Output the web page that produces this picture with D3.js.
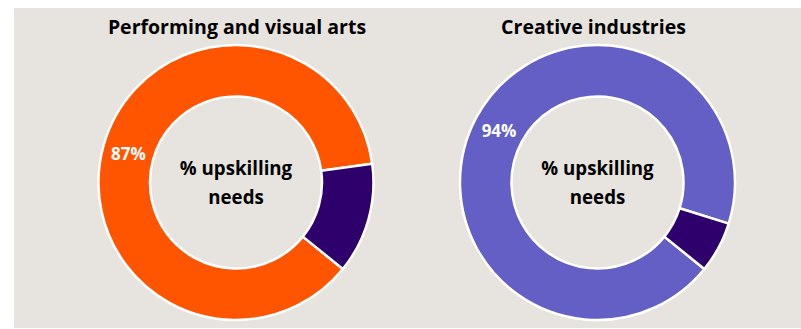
<!DOCTYPE html>
<html>
<head>
<meta charset="utf-8">
<script src="https://cdn.jsdelivr.net/npm/d3@7"></script>
<style>
  html, body { margin: 0; padding: 0; background: #ffffff; }
  svg { display: block; }
  text { font-family: "Open Sans", Lato, sans-serif; font-weight: bold; }
</style>
</head>
<body>
<svg id="chart" width="801" height="329"></svg>
<script>
// Share of respondents reporting upskilling needs, by sector
const titles = ["Performing and visual arts", "Creative industries"];
const categories = ["Upskilling needs", "No upskilling needs"];
const artsValues = [87, 13];
const creativeValues = [94, 6];
const centerLabel = ["% upskilling", "needs"];

const panels = [
  { title: titles[0], values: artsValues, colors: ["#ff5500", "#2e006b"], cx: 236, titleX: 237 },
  { title: titles[1], values: creativeValues, colors: ["#635fc5", "#2e006b"], cx: 597.5, titleX: 593.5 }
];

const svg = d3.select("#chart");

// Grey backdrop panel
svg.append("rect")
  .attr("x", 14).attr("y", 8)
  .attr("width", 787).attr("height", 320)
  .attr("fill", "#e7e3df");

const outerR = 137.5, innerR = 86, cy = 182.5;
const startRot = 129 * Math.PI / 180;

const pie = d3.pie().sort(null).value(d => d.value)
  .startAngle(startRot).endAngle(startRot + 2 * Math.PI);
const arc = d3.arc().innerRadius(innerR).outerRadius(outerR);
const labelArc = d3.arc().innerRadius((innerR + outerR) / 2).outerRadius((innerR + outerR) / 2);

panels.forEach(p => {
  const g = svg.append("g").attr("transform", `translate(${p.cx},${cy})`);
  const data = categories.map((c, i) => ({ category: c, value: p.values[i] }));
  const color = d3.scaleOrdinal().domain(categories).range(p.colors);
  const arcs = pie(data);

  g.selectAll("path.slice")
    .data(arcs)
    .join("path")
    .attr("class", "slice")
    .attr("d", arc)
    .attr("fill", d => color(d.data.category))
    .attr("stroke", "#ffffff")
    .attr("stroke-width", 2.5)
    .attr("stroke-linejoin", "round");

  // Value label on the main slice only
  g.selectAll("text.val")
    .data(arcs.filter((d, i) => i === 0))
    .join("text")
    .attr("class", "val")
    .attr("transform", d => `translate(${labelArc.centroid(d)})`)
    .attr("text-anchor", "middle")
    .attr("dy", "0.45em")
    .attr("fill", "#ffffff")
    .attr("font-size", 17)
    .text(d => d.data.value + "%");

  // Centre caption
  g.selectAll("text.center")
    .data(centerLabel)
    .join("text")
    .attr("class", "center")
    .attr("text-anchor", "middle")
    .attr("y", (d, i) => -7.5 + i * 28.5)
    .attr("fill", "#000000")
    .attr("font-size", 18.7)
    .text(d => d);

  // Title
  svg.append("text")
    .attr("x", p.titleX)
    .attr("y", 34)
    .attr("text-anchor", "middle")
    .attr("fill", "#000000")
    .attr("font-size", 19.5)
    .text(p.title);
});
</script>
</body>
</html>
